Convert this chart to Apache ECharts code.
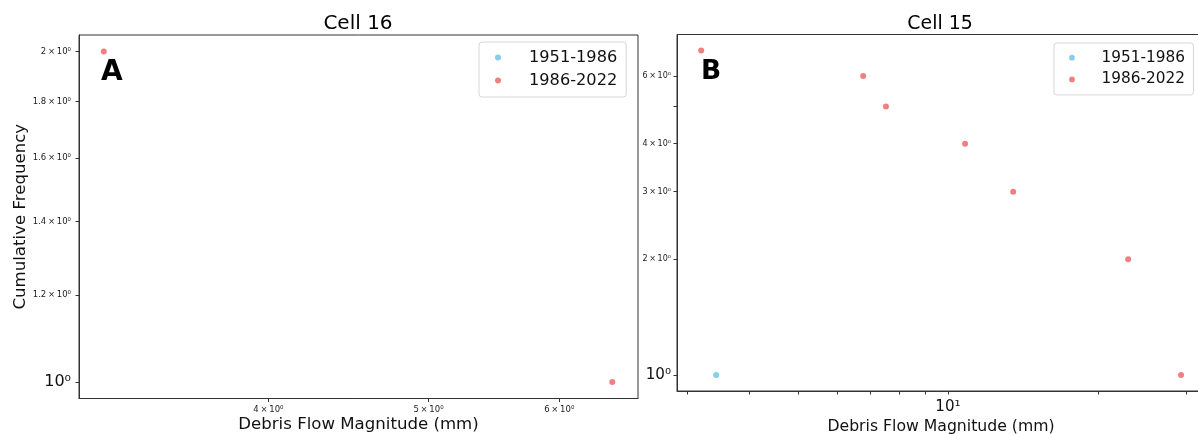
<!DOCTYPE html>
<html><head><meta charset="utf-8">
<script src="https://cdn.jsdelivr.net/npm/echarts@6/dist/echarts.min.js"></script>
<style>html,body{margin:0;padding:0;background:#fff}#c{width:1198px;height:434px}</style>
</head><body><div id="c"></div>
<script>
// ---- data ----
const seriesNames = ['1951-1986', '1986-2022'];
const panelTitles = ['Cell 16', 'Cell 15'];
const panelLetters = ['A', 'B'];
const xAxisTitle = 'Debris Flow Magnitude (mm)';
const yAxisTitle = 'Cumulative Frequency';

const cell16_early = [];
const cell16_late = [[3.18, 2], [6.46, 1]];
const cell15_early = [[3.43, 1]];
const cell15_late = [[3.20, 7], [6.76, 6], [7.51, 5], [10.82, 4], [13.51, 3], [22.97, 2], [29.32, 1]];

const cell16_xRange = [3.072, 6.696];
const cell16_yRange = [0.9659, 2.070];
const cell15_xRange = [2.862, 32.75];
const cell15_yRange = [0.9080, 7.70];

const cell16_xTicks = [4, 5, 6];
const cell16_xLabelTicks = [4, 5, 6];
const cell16_xLabels = ['4\u2009×\u200910⁰', '5\u2009×\u200910⁰', '6\u2009×\u200910⁰'];
const cell16_yTicks = [1, 1.2, 1.4, 1.6, 1.8, 2];
const cell16_yLabelTicks = [1, 1.2, 1.4, 1.6, 1.8, 2];
const cell16_yLabels = ['10⁰', '1.2\u2009×\u200910⁰', '1.4\u2009×\u200910⁰', '1.6\u2009×\u200910⁰', '1.8\u2009×\u200910⁰', '2\u2009×\u200910⁰'];

const cell15_xTicks = [3, 4, 5, 6, 7, 8, 9, 10, 20, 30];
const cell15_xLabelTicks = [10];
const cell15_xLabels = ['10¹'];
const cell15_yTicks = [1, 2, 3, 4, 5, 6];
const cell15_yLabelTicks = [1, 2, 3, 4, 6];
const cell15_yLabels = ['10⁰', '2\u2009×\u200910⁰', '3\u2009×\u200910⁰', '4\u2009×\u200910⁰', '6\u2009×\u200910⁰'];

// ---- styles ----
const FONT = 'DejaVu Sans';
const COLORS = ['#87CEEB', '#F08080'];
const AXIS_COLOR = '#333';

function makeFormatter(ticks, labels) {
  return function (v) {
    let idx = -1;
    for (let i = 0; i < ticks.length; i++) {
      if (Math.abs(v - ticks[i]) < 1e-6 * ticks[i]) { idx = i; break; }
    }
    if (idx < 0) return '';
    const lg = Math.log10(ticks[idx]);
    const major = Math.abs(lg - Math.round(lg)) < 1e-9;
    return (major ? '{b|' : '{s|') + labels[idx] + '}';
  };
}

function axis(kind, grid, range, ticks, labelTicks, labels, scale, opts) {
  const o = {
    type: 'log', logBase: 10, gridIndex: grid,
    min: range[0], max: range[1],
    axisLine: { show: true, onZero: false, lineStyle: { color: AXIS_COLOR, width: 1 } },
    axisTick: { show: true, length: 3.5, customValues: ticks, lineStyle: { color: AXIS_COLOR, width: 1 } },
    minorTick: { show: false },
    splitLine: { show: false },
    axisLabel: {
      customValues: labelTicks,
      formatter: makeFormatter(labelTicks, labels),
      color: '#222', fontFamily: FONT,
      margin: opts.margin,
      rich: {
        b: { fontSize: 16 * scale, fontFamily: FONT, color: '#111' },
        s: { fontSize: 8.5 * scale, fontFamily: FONT, color: '#222' }
      }
    }
  };
  if (opts.name) {
    o.name = opts.name;
    o.nameLocation = 'middle';
    o.nameGap = opts.nameGap;
    o.nameMoveOverlap = false;
    o.nameTextStyle = { fontSize: 16.6 * scale, lineHeight: 17 * scale, fontFamily: FONT, color: '#111' };
  }
  return o;
}

function legend(left, top, scale) {
  return {
    data: seriesNames, orient: 'vertical', left: left, top: top,
    selectedMode: false,
    icon: 'circle', itemWidth: 14 * scale, itemHeight: 6 * scale, itemGap: 6 * scale,
    padding: [7 * scale, 9 * scale, 8 * scale, 16 * scale],
    backgroundColor: 'rgba(255,255,255,0.8)',
    borderColor: '#d6d6d6', borderWidth: 1, borderRadius: 3,
    textStyle: { fontSize: 16.2 * scale, lineHeight: 17 * scale, fontFamily: FONT, color: '#111', padding: [0, 0, 0, 19 * scale] }
  };
}

function scatter(name, xi, data, color) {
  return {
    type: 'scatter', name: name, xAxisIndex: xi, yAxisIndex: xi, data: data,
    symbol: 'circle', symbolSize: 6, itemStyle: { color: color, opacity: 1 }
  };
}

const SB = 0.945;
const option = {
  animation: false,
  backgroundColor: '#fff',
  textStyle: { fontFamily: FONT },
  grid: [
    { left: 79, top: 35, width: 559, height: 363.5, show: true, borderColor: AXIS_COLOR, borderWidth: 1, containLabel: false, outerBoundsMode: 'none' },
    { left: 677, top: 34.5, width: 528, height: 356.5, show: true, borderColor: AXIS_COLOR, borderWidth: 1, containLabel: false, outerBoundsMode: 'none' }
  ],
  xAxis: [
    axis('x', 0, cell16_xRange, cell16_xTicks, cell16_xLabelTicks, cell16_xLabels, 1, { margin: 7, name: xAxisTitle, nameGap: 18 }),
    axis('x', 1, cell15_xRange, cell15_xTicks, cell15_xLabelTicks, cell15_xLabels, SB, { margin: 8.5, name: xAxisTitle, nameGap: 28 })
  ],
  yAxis: [
    axis('y', 0, cell16_yRange, cell16_yTicks, cell16_yLabelTicks, cell16_yLabels, 1, { margin: 8, name: yAxisTitle, nameGap: 50 }),
    axis('y', 1, cell15_yRange, cell15_yTicks, cell15_yLabelTicks, cell15_yLabels, SB, { margin: 6 })
  ],
  legend: [legend(479, 42, 1), legend(1054, 43, SB)],
  series: [
    scatter(seriesNames[0], 0, cell16_early, COLORS[0]),
    scatter(seriesNames[1], 0, cell16_late, COLORS[1]),
    scatter(seriesNames[0], 1, cell15_early, COLORS[0]),
    scatter(seriesNames[1], 1, cell15_late, COLORS[1])
  ],
  graphic: [
    { type: 'text', x: 358, y: 23.5, style: { text: panelTitles[0], font: '20px "DejaVu Sans"', fill: '#000', textAlign: 'center', textVerticalAlign: 'middle', align: 'center', verticalAlign: 'middle' } },
    { type: 'text', x: 940, y: 23.7, style: { text: panelTitles[1], font: (20 * SB) + 'px "DejaVu Sans"', fill: '#000', textAlign: 'center', textVerticalAlign: 'middle', align: 'center', verticalAlign: 'middle' } },
    { type: 'text', x: 101, y: 73, z: 10, style: { text: panelLetters[0], font: 'bold 28px "DejaVu Sans"', fill: '#000', textAlign: 'left', textVerticalAlign: 'middle', align: 'left', verticalAlign: 'middle' } },
    { type: 'text', x: 701, y: 72.5, z: 10, style: { text: panelLetters[1], font: 'bold 26.5px "DejaVu Sans"', fill: '#000', textAlign: 'left', textVerticalAlign: 'middle', align: 'left', verticalAlign: 'middle' } }
  ]
};

const chart = echarts.init(document.getElementById('c'), null, { renderer: 'canvas' });
chart.setOption(option);
</script>
</body></html>
